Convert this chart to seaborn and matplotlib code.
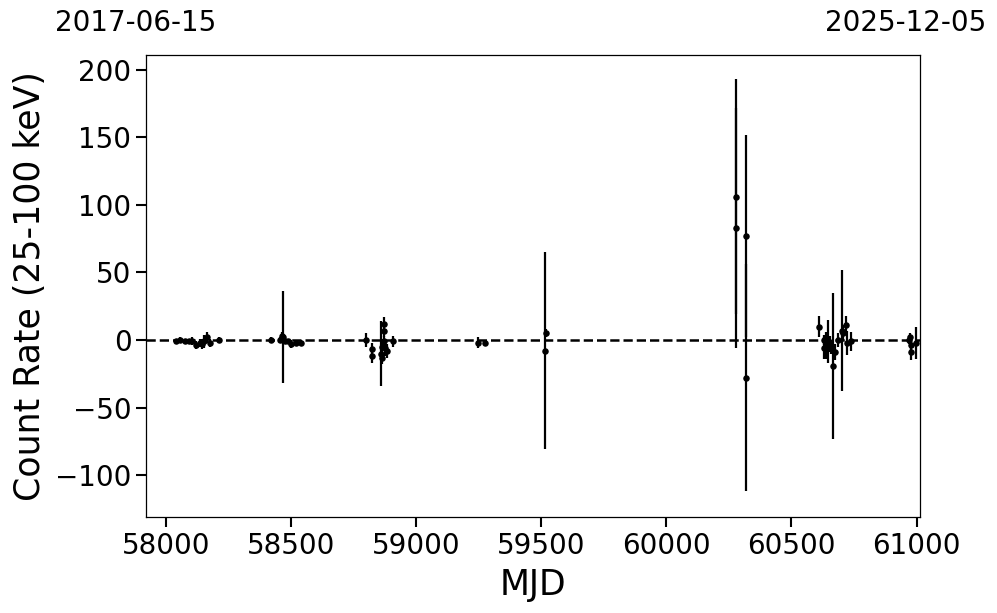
# Light curve: count rate vs MJD with error bars

import numpy as np
import pandas as pd
import seaborn as sns
import matplotlib
matplotlib.use("Agg")
import matplotlib.pyplot as plt

# data
mjd = [58040, 58055, 58075, 58090, 58105, 58120, 58135, 58145, 58150, 58165, 58175, 58210,
       58418, 58454, 58462, 58466, 58474, 58486, 58498, 58518, 58538,
       58797, 58821, 58821, 58857, 58861, 58861, 58869, 58869, 58869, 58876, 58884, 58908,
       59247, 59275,
       59514, 59518,
       60279, 60279, 60319, 60319,
       60610, 60629, 60629, 60639, 60645, 60653, 60657, 60665, 60673, 60685, 60701, 60705,
       60717, 60721, 60737,
       60968, 60972, 60976, 60976, 60998]
rate = [-1, 0, -1, -1, -1, -4, -2, -3, -1, 2, -2, 0,
        0, 0, 3, 2, -1, -1, -3, -2, -2,
        0, -7, -12, -10, -5, -13, 12, 7, -1, -6, -8, -1,
        -2, -2,
        -8, 5,
        106, 83, 77, -28,
        10, 0, -6, -4, -1, -3, -5, -19, -9, 0, 7, 5,
        11, -2, -1,
        0, 2, -4, -9, -2]
rate_err = [2, 2, 2, 2, 3, 3, 3, 4, 5, 4, 3, 2,
            2, 2, 3, 34, 2, 2, 3, 2, 2,
            5, 5, 5, 24, 6, 5, 5, 5, 4, 6, 5, 4,
            4, 2,
            73, 3,
            87, 89, 75, 84,
            8, 4, 8, 10, 16, 6, 5, 54, 6, 5, 45, 6,
            7, 9, 7,
            3, 3, 5, 6, 12]

date_start = "2017-06-15"
date_end = "2025-12-05"
mjd_start = 57919
mjd_end = 61014

df = pd.DataFrame({"MJD": mjd, "rate": rate, "err": rate_err})

sns.set_style("ticks", {"axes.edgecolor": "black", "text.color": "black",
                        "axes.labelcolor": "black", "xtick.color": "black",
                        "ytick.color": "black"})
plt.rcParams["font.family"] = ["DejaVu Sans"]

fig = plt.figure(figsize=(9.97, 6.13), dpi=100)
ax = fig.add_axes([0.1464, 0.1566, 0.7764, 0.7537])

ax.axhline(0, color="black", linestyle="--", linewidth=1.8, zorder=1)
ax.errorbar(df["MJD"], df["rate"], yerr=df["err"], fmt="none",
            ecolor="black", elinewidth=1.6, zorder=2)
sns.scatterplot(data=df, x="MJD", y="rate", color="black", s=22,
                edgecolor="black", linewidth=0, ax=ax, zorder=3)

ax.set_xlim(mjd_start, mjd_end)
ax.set_ylim(-131, 211)
ax.set_xticks([58000, 58500, 59000, 59500, 60000, 60500, 61000])
ax.set_yticks([-100, -50, 0, 50, 100, 150, 200])
ax.set_xlabel("MJD", fontsize=25, labelpad=6)
ax.set_ylabel("Count Rate (25-100 keV)", fontsize=25, labelpad=6)
ax.tick_params(axis="both", labelsize=20, length=7, width=1.5, colors="black")
for sp in ax.spines.values():
    sp.set_linewidth(0.9)
    sp.set_color("black")

fig.text(0.055, 0.962, date_start, fontsize=20, ha="left", va="center")
fig.text(0.989, 0.962, date_end, fontsize=20, ha="right", va="center")

fig.savefig("out.png", dpi=100)
